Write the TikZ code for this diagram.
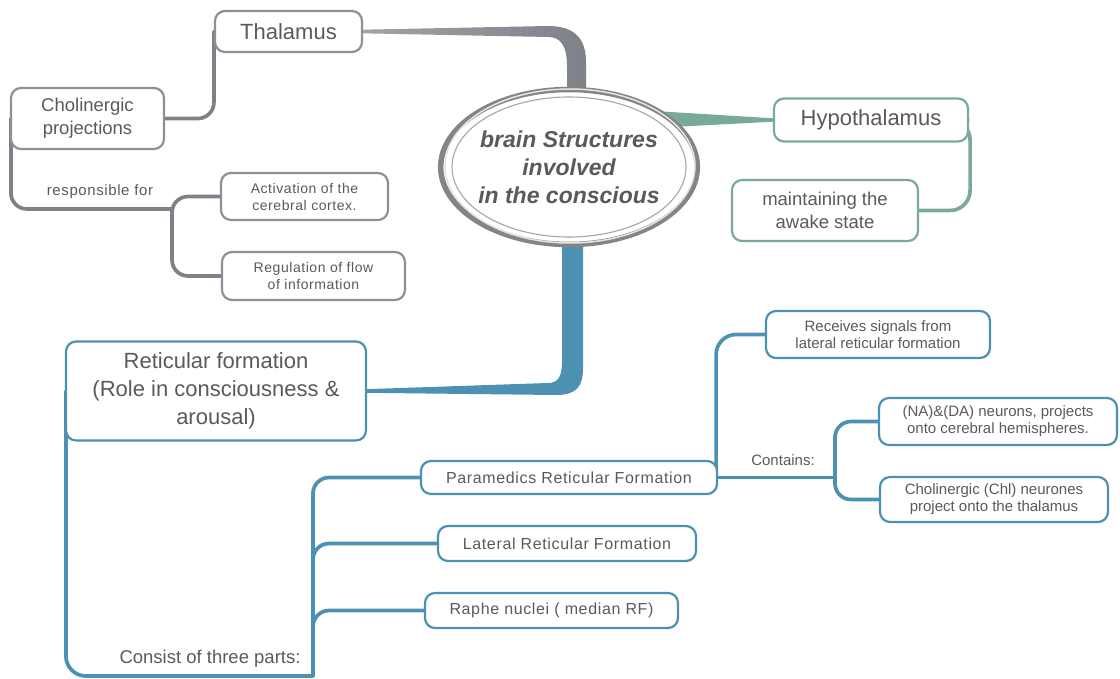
\documentclass[tikz,border=0pt]{standalone}
\usepackage{fontspec}
\setmainfont{Liberation Sans}
\newfontfamily\spaced[LetterSpace=4]{Liberation Sans}
\usetikzlibrary{shapes.geometric,calc}
\pgfdeclarelayer{bg}
\pgfsetlayers{bg,main}
\definecolor{txt}{HTML}{5A5A5A}
\definecolor{gborder}{HTML}{8D9197}
\definecolor{gconn}{HTML}{7E8288}
\definecolor{gconnl}{HTML}{A0A3A8}
\definecolor{greenc}{HTML}{79A999}
\definecolor{bluec}{HTML}{4C91B2}
\definecolor{ringc}{HTML}{858585}
\newcommand{\fs}[2]{\fontsize{#1}{#2}\selectfont}
\tikzset{
  box/.style={draw, rounded corners=10pt, line width=2.2pt, fill=white, align=center, text=txt, inner sep=0pt},
  gbox/.style={box, draw=gborder},
  grbox/.style={box, draw=greenc},
  bbox/.style={box, draw=bluec},
  conn/.style={line width=3.7pt, rounded corners=16pt, line cap=round},
  gline/.style={conn, draw=gconn},
  grline/.style={conn, draw=greenc},
  bline/.style={conn, draw=bluec},
  lbl/.style={text=txt, inner sep=0pt}
}
\begin{document}
\begin{tikzpicture}[x=1pt,y=-1pt]
\useasboundingbox (0,0) rectangle (1120,679);

% central ellipse
\node[ellipse, draw=ringc, line width=5.5pt, fill=white, minimum width=250pt, minimum height=155pt, inner sep=0pt, text=txt, align=center, font={\fs{23}{28}\bfseries\itshape}] (cen) at (569,167)
  {brain Structures\\involved\\in the conscious};
\draw[white!80!gray, line width=1.5pt] ([xshift=1pt,yshift=1pt]cen.center) ellipse [x radius=125pt, y radius=77pt];
\draw[gray!70, line width=1.1pt] (cen.center) ellipse [x radius=117pt, y radius=70pt];

% nodes
\node[gbox, minimum width=147pt, minimum height=41pt, font={\fs{22}{26}}] (thal) at (288.5,31.5) {Thalamus};
\node[gbox, minimum width=153pt, minimum height=61pt, font={\fs{18.5}{23}}] (chol) at (87.5,118.5) {Cholinergic\\projections};
\node[lbl, font={\spaced\fs{15}{17}}] (resp) at (100,192) {responsible for};
\node[gbox, minimum width=167pt, minimum height=47pt, font={\spaced\fs{14}{17}}] (act) at (304.5,196.5) {Activation of the\\ cerebral cortex.};
\node[gbox, minimum width=183pt, minimum height=48pt, font={\spaced\fs{14}{17}}] (reg) at (313.5,276) {Regulation of flow\\ of information};

\node[grbox, minimum width=194pt, minimum height=43pt, font={\fs{22}{26}}] (hyp) at (871,120) {Hypothalamus};
\node[grbox, minimum width=186pt, minimum height=61pt, font={\fs{18.5}{23}}] (mai) at (825,210.5) {maintaining the\\awake state};

\node[bbox, minimum width=300pt, minimum height=99pt, font={\fs{22}{28}}] (ret) at (216,391) {Reticular formation\\(Role in consciousness \&\\arousal)};
\node[bbox, minimum width=224pt, minimum height=47pt, font={\fs{15}{17}}] (rec) at (878,334.5) {Receives signals from\\lateral reticular formation};
\node[bbox, minimum width=238pt, minimum height=47pt, font={\fs{15}{17}}] (na) at (998,421.5) {(NA)\&(DA) neurons, projects\\onto cerebral hemispheres.};
\node[bbox, minimum width=228pt, minimum height=45pt, font={\fs{15}{17}}] (chl) at (994,499.5) {Cholinergic (Chl) neurones\\project onto the thalamus};
\node[bbox, minimum width=296pt, minimum height=33pt, font={\spaced\fs{16}{18}}] (para) at (569,477.5) {Paramedics Reticular Formation};
\node[bbox, minimum width=258pt, minimum height=35pt, font={\spaced\fs{16}{18}}] (lat) at (567,543.5) {Lateral Reticular Formation};
\node[bbox, minimum width=253pt, minimum height=35pt, font={\spaced\fs{16}{18}}] (rap) at (551.5,610.5) {Raphe nuclei ( median RF)};
\node[lbl, font={\fs{15}{16}}] (cont) at (783,460) {Contains:};
\node[lbl, font={\fs{18.5}{20}}] (cons) at (210,659) {Consist of three parts:};

\coordinate (gsplit) at (172,209);
\coordinate (bsplit) at (313,676);
\coordinate (csplit) at (835,477.5);

\begin{pgfonlayer}{bg}
% tapered main connectors
\path[left color=gconnl, right color=gconn]
  ($(thal.east)+(-2,-1.8)$) -- (548,26) .. controls (576,26) and (586,40) .. (586,62)
  -- ($(cen.center)+(17,-66)$) -- ($(cen.center)+(-2,-66)$) -- (567,66)
  .. controls (567,45) and (560,37) .. (548,37) -- ($(thal.east)+(-2,1.8)$) -- cycle;
\fill[greenc]
  ($(cen.center)+(85,-56)$) -- ($(hyp.west)+(2,-1.6)$) -- ($(hyp.west)+(2,1.6)$) -- ($(cen.center)+(85,-39)$) -- cycle;
\fill[bluec]
  ($(cen.center)+(-7,60)$) -- (562,362) .. controls (562,378) and (557,383) .. (548,383)
  -- ($(ret.east)+(-2,-1.8)$) -- ($(ret.east)+(-2,1.8)$) -- (556,395)
  .. controls (577,395) and (583,386) .. (583,368) -- ($(cen.center)+(14,60)$) -- cycle;

% gray branches
\draw[gline] (chol.east) -| (thal.west);
\draw[gline] ([xshift=1pt]chol.west) |- (gsplit);
\draw[gline] (gsplit) |- (act.west);
\draw[gline] (gsplit) |- (reg.west);

% green branch
\draw[grline, rounded corners=20pt] ([xshift=-1pt]hyp.east) -- ([xshift=1pt]hyp.east) |- (mai.east);

% blue branches
\draw[bline, rounded corners=20pt] ([xshift=1pt]ret.west) |- (bsplit);
\draw[bline] (bsplit) |- (para.west);
\draw[bline] ($(bsplit)+(0,-70)$) |- (lat.west);
\draw[bline] ($(bsplit)+(0,-30)$) |- (rap.west);
\draw[bline, rounded corners=20pt] ([xshift=-2pt]para.east) |- (rec.west);
\draw[bline] (para.east) -- (csplit);
\draw[bline] (csplit) |- (na.west);
\draw[bline] (csplit) |- (chl.west);
\end{pgfonlayer}
\end{tikzpicture}
\end{document}
